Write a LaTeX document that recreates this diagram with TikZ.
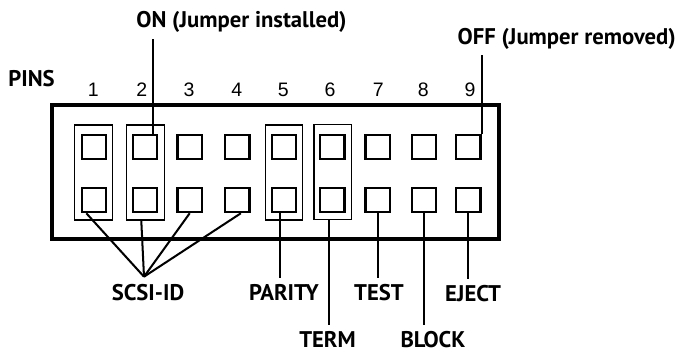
\documentclass[tikz,border=0pt]{standalone}
\usepackage{fontspec}
\setmainfont{PT Sans}
\newfontfamily\digitfont{Liberation Sans}
\usetikzlibrary{calc}
\tikzset{
	pinbox/.style={draw, line width=1.3pt, minimum size=13.8pt, inner sep=0pt},
	jumper/.style={draw, line width=0.75pt, minimum width=21.4pt, minimum height=54.1pt, inner sep=0pt},
	num/.style={font=\digitfont\fontsize{11.1}{13}\selectfont, inner sep=0pt},
	lbl/.style={font=\bfseries\fontsize{12.9}{15}\selectfont, inner xsep=0pt, inner ysep=3.5pt},
	wire/.style={line width=1.15pt}
}

\begin{document}
\begin{tikzpicture}[x=0.02cm, y=-0.02cm]
			\useasboundingbox (0,0) rectangle (687,352);
			%%%%% START %%%%%
			\draw[line width=1.9pt] (52,105) rectangle (499,239);
			\node[lbl, anchor=base] (pins) at (31.5,86) {PINS};
			
			\foreach \i/\x/\nx in {1/94/93.3, 2/145/141.7, 3/189.7/189, 4/237.3/236.7, 5/284/283.3, 6/332.3/330, 7/377.7/378.3, 8/424/423.3, 9/468.3/470}{
				\node[num, anchor=base] (n\i) at (\nx,96.7) {\i};
				\node[pinbox] (t\i) at (\x,146.8) {};
				\node[pinbox] (b\i) at (\x,200) {};
			}
			
			\node[jumper] (j1) at (93.5,172.5) {};
			\node[jumper] (j2) at (145.5,172.5) {};
			\node[jumper] (j5) at (284,172.5) {};
			\node[jumper] (j6) at (332.8,171.7) {};
			
			\node[lbl, anchor=base] (on) at (241.5,27.3) {ON (Jumper installed)};
			\node[lbl, anchor=base] (off) at (566.7,44) {OFF (Jumper removed)};
			\draw[wire] (t2.60) -- (t2.60 |- on.south);
			\draw[wire] (t9.north east) -- (t9.north east |- off.south);
			
			\node[lbl, anchor=base] (scsiid) at (148,300.7) {SCSI-ID};
			\node[lbl, anchor=base] (parity) at (284,300.7) {PARITY};
			\node[lbl, anchor=base] (test) at (379,300.7) {TEST};
			\node[lbl, anchor=base] (eject) at (473,301.5) {EJECT};
			\node[lbl, anchor=base] (term) at (327.5,347.7) {TERM};
			\node[lbl, anchor=base] (block) at (433,347.7) {BLOCK};
			
			\coordinate (scsi) at (144,276.7);
			\draw[wire] (b1.240) -- (scsi);
			\draw[wire] (j2.265) -- (scsi);
			\draw[wire] (b3.south) -- (scsi);
			\draw[wire] (b4.285) -- (scsi);
			
			\draw[wire] (b5.255) -- (b5.255 |- parity.north);
			\draw[wire] (j6.265) -- (j6.265 |- term.north);
			\draw[wire] (b7.south) -- (b7.south |- test.north);
			\draw[wire] (b8.south) -- (b8.south |- block.north);
			\draw[wire] (b9.south) -- (b9.south |- eject.north);
			%%%%% END %%%%%
\end{tikzpicture}
\end{document}
